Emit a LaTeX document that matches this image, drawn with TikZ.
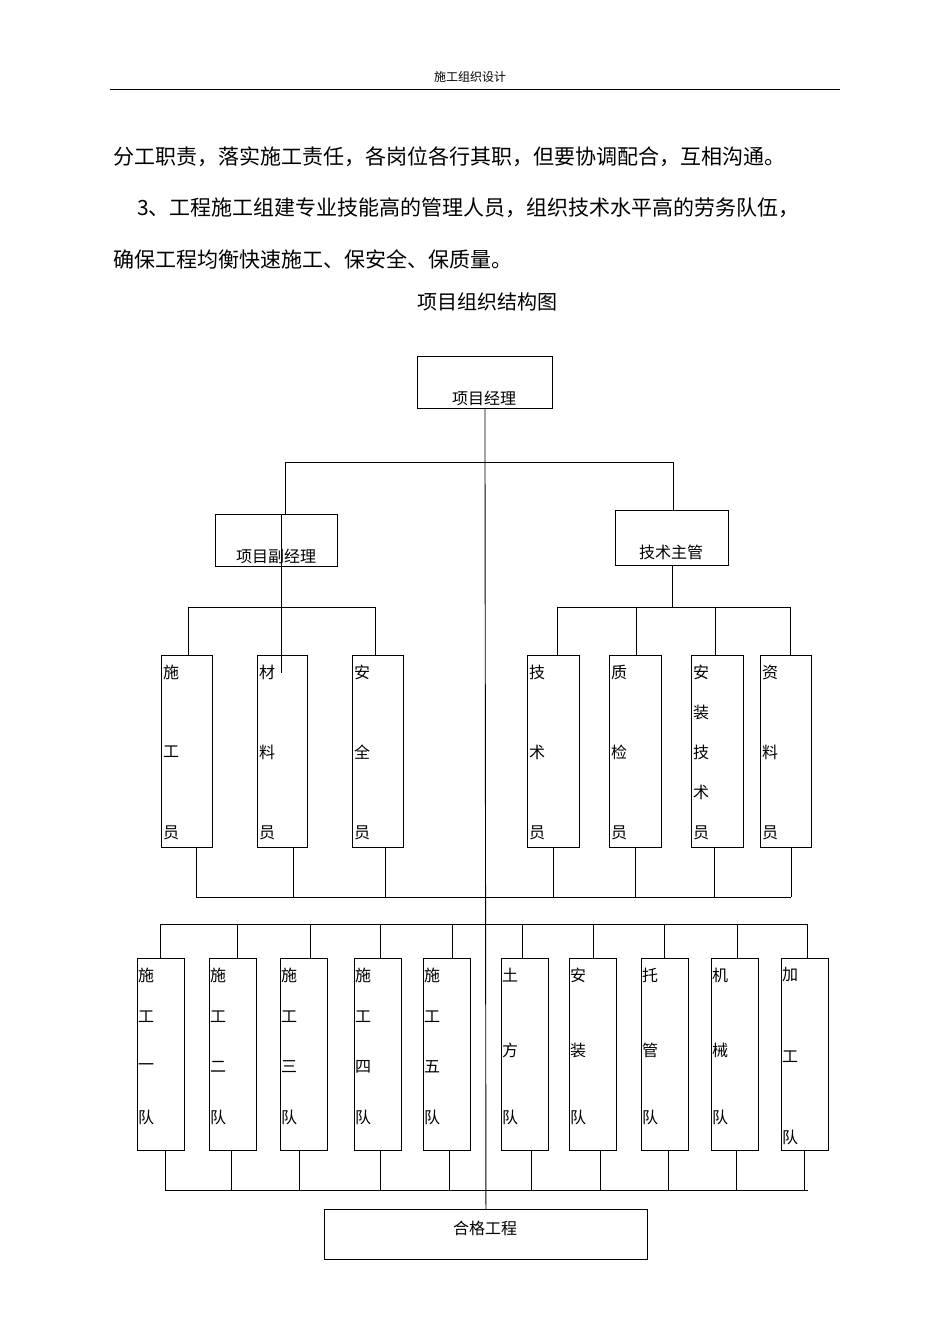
\documentclass[tikz,border=0pt]{standalone}
\usepackage{fontspec}
\setmainfont{Noto Sans CJK SC}
\begin{document}
\begin{tikzpicture}[x=1pt,y=-1pt,
  box/.style={draw,line width=0.9pt,inner sep=0,anchor=north west},
  ch/.style={font=\fontsize{16}{16}\selectfont,anchor=west,inner sep=0},
  ln/.style={line width=0.9pt}]
\useasboundingbox (0,0) rectangle (950,1344);
\node[font=\fontsize{12}{12}\selectfont] (hdr) at (470,77) {施工组织设计};
\draw[line width=0.8pt] (110,89) coordinate (h1) -- (840,89) coordinate (h2);
\node[font=\fontsize{21}{21}\selectfont,anchor=west,inner sep=0] (t1) at (113,157) {分工职责，落实施工责任，各岗位各行其职，但要协调配合，互相沟通。};
\node[font=\fontsize{21}{21}\selectfont,anchor=west,inner sep=0] (t2) at (137,208) {3、工程施工组建专业技能高的管理人员，组织技术水平高的劳务队伍，};
\node[font=\fontsize{21}{21}\selectfont,anchor=west,inner sep=0] (t3) at (113,259) {确保工程均衡快速施工、保安全、保质量。};
\node[font=\fontsize{20}{20}\selectfont] (title) at (487,302) {项目组织结构图};
% top boxes
\node[box,minimum width=135,minimum height=52] (pm) at (417,356) {};
\node[ch,anchor=center] at (484,398) {项目经理};
\node[box,minimum width=122,minimum height=52] (dpm) at (215,514) {};
\node[ch,anchor=center] at (276,556) {项目副经理};
\node[box,minimum width=113,minimum height=55] (tm) at (615,510) {};
\node[ch,anchor=center] at (671,552) {技术主管};
\node[box,minimum width=323,minimum height=50] (hg) at (324,1209) {};
\node[ch,anchor=center] at (485,1228) {合格工程};
% middle row
\foreach \n/\x/\w/\chars in {s1/161/51/{施/672,工/752,员/833},s2/257/50/{材/672,料/752,员/833},s3/352/51/{安/672,全/752,员/833},s4/527/52/{技/672,术/752,员/833},s5/609/52/{质/672,检/752,员/833},s6/691/52/{安/672,装/712,技/752,术/792,员/833},s7/760/51/{资/672,料/752,员/833}}{
  \node[box,minimum width=\w,minimum height=192] (\n) at (\x,655) {};
  \foreach \c/\yy in \chars {\node[ch] at (\x+2,\yy) {\c};}
}
% bottom row
\foreach \n/\x/\chars in {d1/137/{施/975,工/1017,一/1067,队/1117},d2/209/{施/975,工/1017,二/1067,队/1117},d3/280/{施/975,工/1017,三/1067,队/1117},d4/354/{施/975,工/1017,四/1067,队/1117},d5/423/{施/975,工/1017,五/1067,队/1117},d6/501/{土/975,方/1050,队/1117},d7/569/{安/975,装/1050,队/1117},d8/641/{托/975,管/1050,队/1117},d9/711/{机/975,械/1050,队/1117},d10/781/{加/975,工/1057,队/1137}}{
  \node[box,minimum width=47,minimum height=192] (\n) at (\x,958) {};
  \foreach \c/\yy in \chars {\node[ch] at (\x+1,\yy) {\c};}
}
% main spine
\draw[ln] (pm.south) -- (hg.north);
% level 1
\coordinate (b1l) at (285,462); \coordinate (b1r) at (673,462);
\draw[ln] (b1l) -- (b1r);
\draw[ln] (b1l) -- (dpm.north -| b1l);
\draw[ln] (b1r) -- (tm.north -| b1r);
% left group
\coordinate (b2l) at (188,607); \coordinate (b2r) at (375,607);
\draw[ln] (b2l) -- (b2r);
\draw[ln] (dpm.north -| 281,0) -- (281,673);
\draw[ln] (b2l) -- (s1.north -| b2l);
\draw[ln] (b2r) -- (s3.north -| b2r);
% right group
\coordinate (b3l) at (557,607); \coordinate (b3r) at (790,607);
\draw[ln] (b3l) -- (b3r);
\draw[ln] (tm.south) -- (tm.south |- b3l);
\foreach \n/\xx in {s4/557,s5/636,s6/715,s7/790}{\draw[ln] (\xx,607) -- (\n.north -| \xx,0);}
% lower bus of middle row
\draw[ln] (196,897) coordinate (b4l) -- (791,897) coordinate (b4r);
\foreach \n/\xx in {s1/196,s2/293,s3/385,s4/553,s5/635,s6/714,s7/791}{\draw[ln] (\n.south -| \xx,0) -- (\xx,897);}
% teams bus
\draw[ln] (160,924) coordinate (b5l) -- (807,924) coordinate (b5r);
\foreach \n/\xx in {d1/160,d2/237,d3/310,d4/380,d5/452,d6/522,d7/593,d8/664,d9/737,d10/807}{\draw[ln] (\xx,924) -- (\n.north -| \xx,0);}
% teams bottom bus
\draw[ln] (165,1190) coordinate (b6l) -- (808,1190) coordinate (b6r);
\foreach \n/\xx in {d1/165,d2/231,d3/299,d4/380,d5/449,d6/531,d7/600,d8/668,d9/736,d10/804}{\draw[ln] (\n.south -| \xx,0) -- (\xx,1190);}
\end{tikzpicture}
\end{document}
